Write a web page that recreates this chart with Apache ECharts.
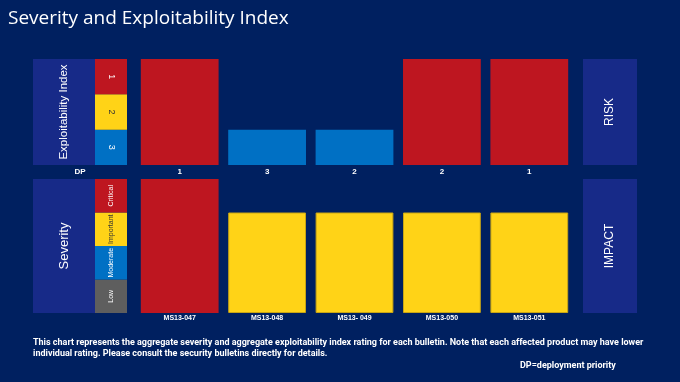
<!DOCTYPE html>
<html><head><meta charset="utf-8">
<script src="https://cdn.jsdelivr.net/npm/echarts@6/dist/echarts.min.js"></script>
<style>html,body{margin:0;padding:0;background:#002060}#c{width:680px;height:382px}</style>
</head><body><div id="c"></div>
<script>
const bulletins = ['MS13-047','MS13-048','MS13- 049','MS13-050','MS13-051'];
const deploymentPriority = ['1','3','2','2','1'];
const exploitabilityIndex = [1,3,3,1,1];
const severity = ['Critical','Important','Important','Important','Important'];
const eiLevels = ['1','2','3'];                       // top to bottom
const severityLevels = ['Critical','Important','Moderate','Low']; // top to bottom
const titleText = 'Severity and Exploitability Index';
const noteLines = ['This chart represents the aggregate severity and aggregate exploitability index rating for each bulletin. Note that each affected product may have lower',
  'individual rating. Please consult the security bulletins directly for details.'];
const dpNote = 'DP=deployment priority';

const RED='#BE1620', YEL='#FFD317', BLU='#0070C4', GRY='#5E5E5E', BOX='#172A88', BG='#002060';
const eiColor = {'1':RED,'2':YEL,'3':BLU};
const sevColor = {'Critical':RED,'Important':YEL,'Moderate':BLU,'Low':GRY};
const eiLabelColor = {'1':'#fff','2':'#333','3':'#fff'};
const sevLabelColor = {'Critical':'#fff','Important':'#333','Moderate':'#fff','Low':'#fff'};

const chart = echarts.init(document.getElementById('c'), null, {renderer:'canvas'});

const topGrid = {left:136, top:59, width:437, height:106};
const botGrid = {left:136, top:179, width:437, height:134};
const topScale = {left:95, top:59, width:32, height:106};
const botScale = {left:95, top:179, width:32, height:134};

const series = [];
series.push({type:'bar', xAxisIndex:0, yAxisIndex:0, barWidth:'89%',
  data: exploitabilityIndex.map(v => ({value: eiLevels.length + 1 - v, itemStyle:{color: eiColor[String(v)]}})),
  silent:true});
series.push({type:'bar', xAxisIndex:1, yAxisIndex:1, barWidth:'89%',
  data: severity.map(s => ({value: severityLevels.length - severityLevels.indexOf(s),
    itemStyle:{color: sevColor[s], borderColor: s==='Important' ? '#C9A514' : sevColor[s], borderWidth: s==='Important'?1:0}})),
  silent:true});
eiLevels.slice().reverse().forEach(l => {
  series.push({type:'bar', xAxisIndex:2, yAxisIndex:2, stack:'ei', barWidth:'100%',
    data:[1], itemStyle:{color: eiColor[l]},
    label:{show:true, position:'inside', rotate:-90, formatter:l, color:eiLabelColor[l], fontSize:9, fontFamily:'Liberation Sans'}});
});
severityLevels.slice().reverse().forEach(l => {
  series.push({type:'bar', xAxisIndex:3, yAxisIndex:3, stack:'sev', barWidth:'100%',
    data:[1], itemStyle:{color: sevColor[l]},
    label:{show:true, position:'inside', rotate:90, formatter:l, color:sevLabelColor[l], fontSize:7, fontFamily:'Liberation Sans'}});
});

function box(x,y,w,h,text,size){
  return [{type:'rect', shape:{x:x,y:y,width:w,height:h}, style:{fill:BOX}, silent:true},
    {type:'text', x:x+w/2, y:y+h/2, rotation:Math.PI/2,
     style:{text:text, fill:'#fff', font:'normal '+size+'px "Liberation Sans", sans-serif', align:'center', verticalAlign:'middle'}, silent:true}];
}

chart.setOption({
  backgroundColor: BG,
  animation:false,
  title:{text:titleText, left:3, top:4, textStyle:{color:'#fff', fontSize:19, fontWeight:'normal', fontFamily:'"Open Sans", sans-serif'}},
  grid:[topGrid, botGrid, topScale, botScale],
  xAxis:[
    {type:'category', gridIndex:0, data:bulletins, axisLine:{show:false}, axisTick:{show:false},
     axisLabel:{formatter:(v,i)=>deploymentPriority[i], color:'#fff', fontSize:8, fontWeight:'bold', margin:3, fontFamily:'Liberation Sans'}},
    {type:'category', gridIndex:1, data:bulletins, axisLine:{show:false}, axisTick:{show:false},
     axisLabel:{color:'#fff', fontSize:7, fontWeight:'bold', margin:2, fontFamily:'Liberation Sans'}},
    {type:'category', gridIndex:2, data:['EI'], show:false},
    {type:'category', gridIndex:3, data:['SEV'], show:false}
  ],
  yAxis:[
    {type:'value', gridIndex:0, min:0, max:eiLevels.length, show:false},
    {type:'value', gridIndex:1, min:0, max:severityLevels.length, show:false},
    {type:'value', gridIndex:2, min:0, max:eiLevels.length, show:false},
    {type:'value', gridIndex:3, min:0, max:severityLevels.length, show:false}
  ],
  series: series,
  graphic:[].concat(
    box(33,59,62,106,'Exploitability Index',11.5),
    box(33,179,62,134,'Severity',13),
    box(583,59,54,106,'RISK',12),
    box(583,179,54,134,'IMPACT',12),
    [{type:'text', x:80, y:172, style:{text:'DP', fill:'#fff', font:'bold 8px "Liberation Sans"', align:'center', verticalAlign:'middle'}},
     {type:'text', x:33, y:337, style:{text:noteLines.join('\n'), fill:'#fff', font:'bold 9px "Roboto"', lineHeight:11, verticalAlign:'top'}},
     {type:'text', x:520, y:366, style:{text:dpNote, fill:'#fff', font:'bold 9px "Roboto"', verticalAlign:'middle'}}]
  ).map(g=>Object.assign(g,{z:10}))
});
</script></body></html>
